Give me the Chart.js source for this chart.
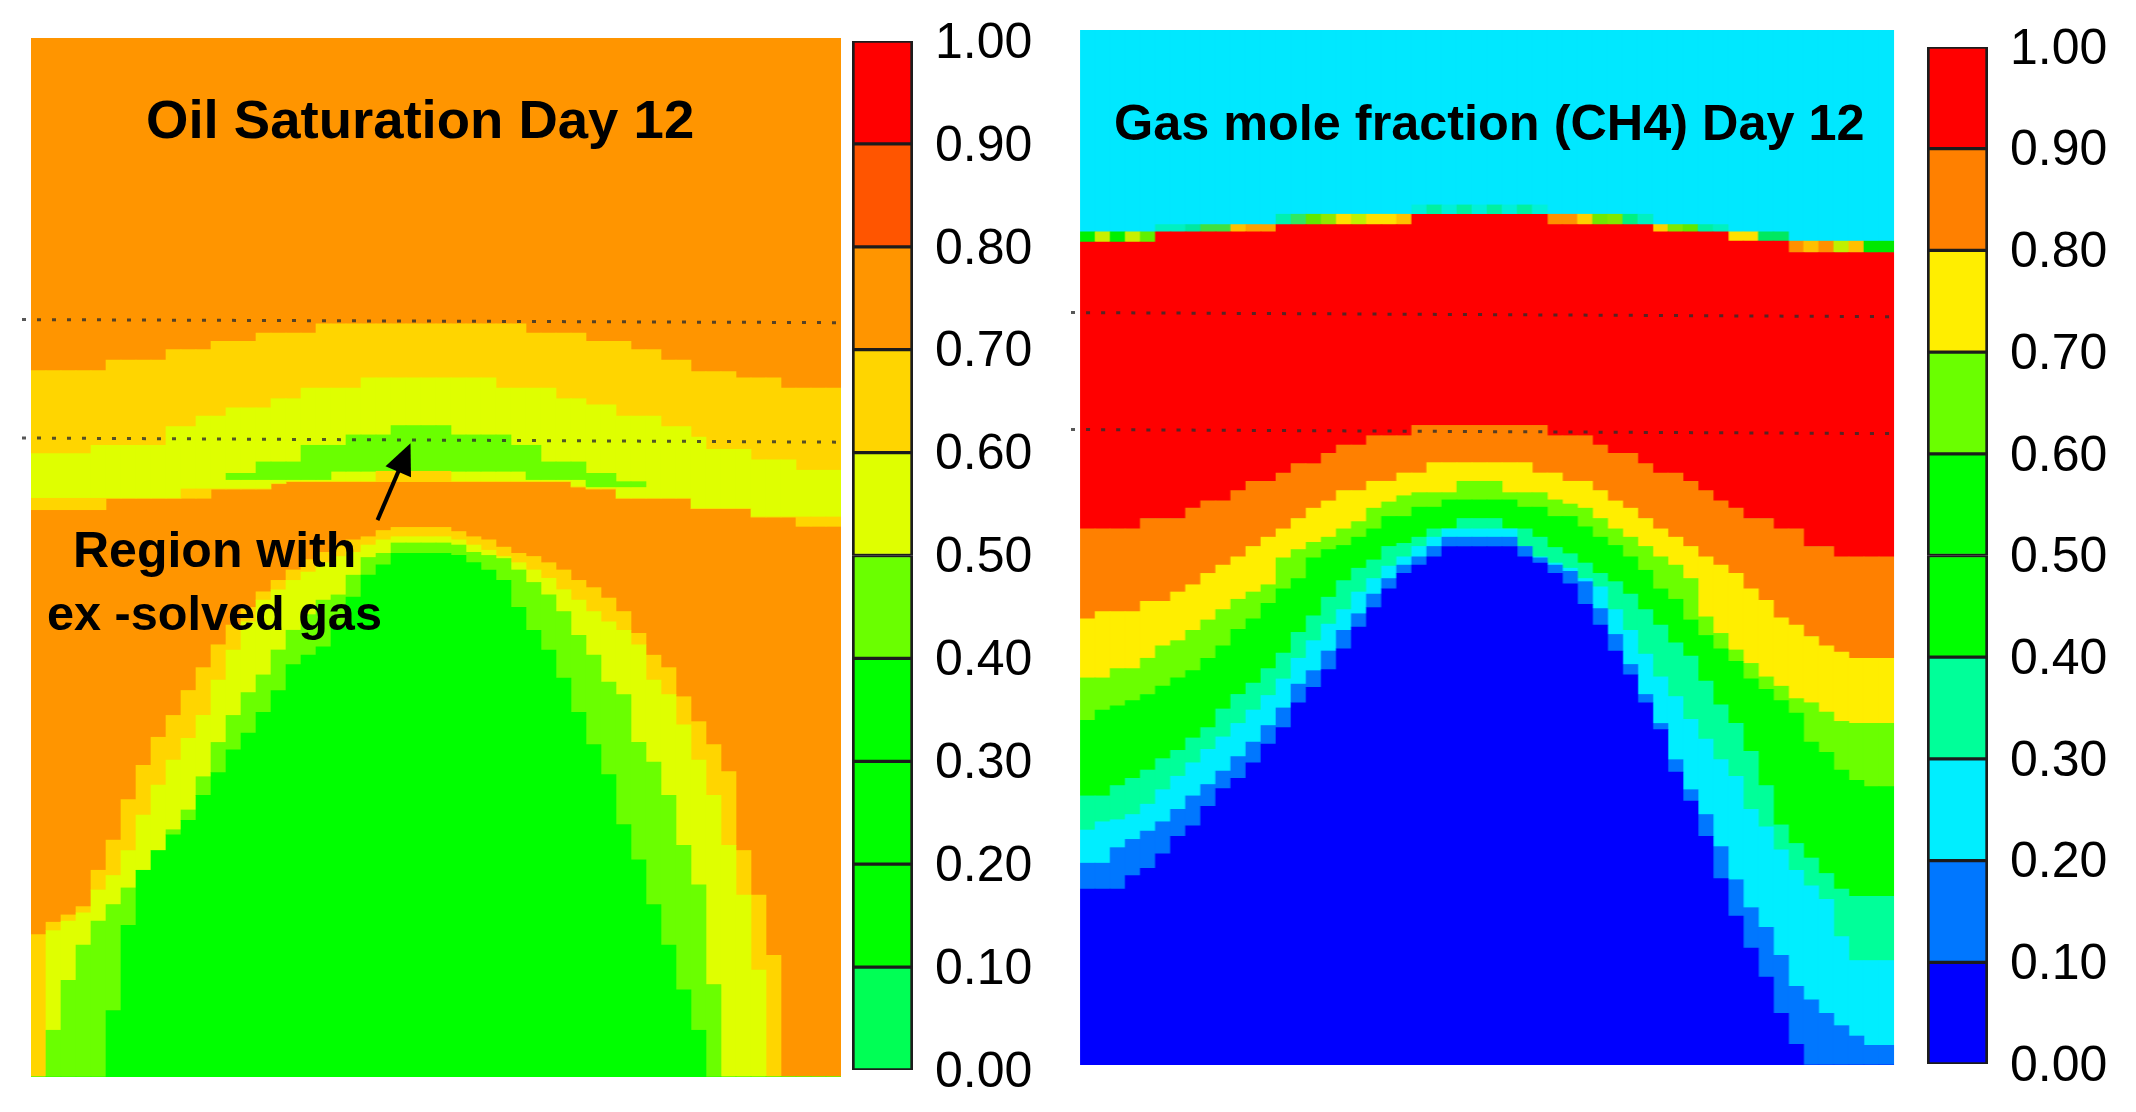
<!DOCTYPE html>
<html>
<head>
<meta charset="utf-8">
<title>Oil saturation and gas mole fraction, day 12</title>
<script src="https://cdn.jsdelivr.net/npm/chart.js@4/dist/chart.umd.min.js"></script>
<style>
  html, body { margin: 0; background: #fff; }
  #page { position: relative; width: 2136px; height: 1112px; overflow: hidden; filter: blur(0.6px); }
  canvas { position: absolute; }
  .label { position: absolute; font-family: "Liberation Sans", Arial, sans-serif; font-weight: bold; color: #000; white-space: nowrap; transform: translateY(-50%); }
</style>
</head>
<body>
<div id="page">
  <canvas id="oilChart" width="823" height="1039" style="left:21px;top:38px"></canvas>
  <canvas id="oilBar" width="200" height="1112" style="left:850px;top:0"></canvas>
  <canvas id="gasChart" width="823" height="1035" style="left:1070px;top:30px;transform:scaleX(1.005);transform-origin:10px 0"></canvas>
  <canvas id="gasBar" width="200" height="1112" style="left:1925px;top:0"></canvas>
  <div class="label" style="left:146px;top:119px;font-size:54.5px">Oil Saturation Day 12</div>
  <div class="label" style="left:73px;top:550px;font-size:50px">Region with</div>
  <div class="label" style="left:47px;top:613px;font-size:48.6px">ex -solved gas</div>
  <div class="label" style="left:1114px;top:122px;font-size:50.4px">Gas mole fraction (CH4) Day 12</div>
</div>
<script>
// depth of each contour in grid layers (0 = top of the section, 100 = bottom), one value per column
const oilGoldTop = [32,32,32,32,32,31,31,31,31,30,30,30,29.2,29.2,29.2,28.4,28.4,28.4,28.4,27.5,27.5,27.5,27.5,27.5,27.5,27.5,27.5,27.5,27.5,27.5,27.5,27.5,27.5,28.4,28.4,28.4,28.4,29.2,29.2,29.2,30,30,31,31,32.1,32.1,32.1,32.7,32.7,32.7,33.7,33.7,33.7,33.7];
const oilLimeTop = [40,40,40,40,39.2,39.2,39.2,39.2,39.2,37.4,37.4,36.4,36.4,35.6,35.6,35.6,34.7,34.7,33.7,33.7,33.7,33.7,32.7,32.7,32.7,32.7,32.7,32.7,32.7,32.7,32.7,33.7,33.7,33.7,33.7,34.7,34.7,35.3,35.3,36.4,36.4,36.4,37.4,37.4,38.4,39.6,39.6,39.6,40.6,40.6,40.6,41.6,41.6,41.6];
const oilLimeEnd = [44.3,44.3,44.3,44.3,44.3,44.3,44.3,44.3,44.3,44.3,43.4,43.4,43.4,43.4,43.4,43.4,42.9,42.7,42.7,42.7,42.7,42.7,42.7,41.7,41.7,41.7,41.7,41.7,42.7,42.7,42.7,42.7,42.7,42.7,42.7,42.7,43.2,43.4,43.4,44.3,44.3,44.3,44.3,44.3,45.3,45.3,45.3,45.3,46.1,46.1,46.1,46.1,46.1,46.1];
const oilLowerOrangeTop = [45.4,45.4,45.4,45.4,45.4,44.3,44.3,44.3,44.3,44.3,44.3,44.3,43.4,43.4,43.4,43.4,42.9,42.7,42.7,42.7,42.7,42.7,42.7,42.7,42.7,42.7,42.7,42.7,42.7,42.7,42.7,42.7,42.7,42.7,42.7,42.7,43.2,43.4,43.4,44.3,44.3,44.3,44.3,44.3,45.3,45.3,45.3,45.3,46.1,46.1,46.1,47,47,47];
const oilPatchTop = [null,null,null,null,null,null,null,null,null,null,null,null,null,41.9,41.9,40.8,40.8,40.8,39.2,39.2,39.2,38.2,38.2,38.2,37.3,37.3,37.3,37.3,38.2,38.2,38.2,38.2,39.2,39.2,40.8,40.8,40.8,41.9,41.9,42.7,42.7,null,null,null,null,null,null,null,null,null,null,null,null,null];
const oilPatchEnd = [null,null,null,null,null,null,null,null,null,null,null,null,null,42.5,42.5,42.5,42.5,42.5,42.5,42.5,41.7,41.7,41.7,41.7,41.7,41.7,41.7,41.7,41.7,41.7,41.7,41.7,41.7,42.5,42.5,42.5,42.5,43.2,43.2,43.2,43.2,null,null,null,null,null,null,null,null,null,null,null,null,null];
const oilDomeGoldTop = [86.3,85.1,84.4,83.6,80.1,77.2,73.3,70,67.3,65.2,62.8,60.6,58.4,56.5,54.8,53.3,52.2,51.2,50.2,49.5,48.8,48.3,48,47.4,47.1,47.1,47.1,47.1,47.5,48,48.3,49,49.6,49.9,50.5,51.2,52.2,52.9,53.9,55.2,57.3,59.4,60.6,63.4,65.8,68,70.6,78.2,82.5,88.3,100,100,100,100];
const oilDomeLimeTop = [100,85.9,85,84.2,82,80.6,78.2,74.8,71.9,69.5,67.4,65.2,61.8,58.9,56.2,54.1,53.1,52.2,51.4,50.5,49.9,49.5,48.8,48.3,48,48,48,48,48.3,48.8,49.3,49.9,50.5,51.2,52,53.1,54.1,55.2,56.2,57,58.4,61.8,63.2,66.1,69.5,72.9,77.7,82.5,89.7,100,100,100,100,100];
const oilDomeLeafTop = [100,95.5,90.7,87.3,85,83.4,81.8,80.1,78.2,76.2,74.3,71.1,67.8,65.2,63,61.3,58.9,57,55.5,54.1,53.6,51.7,50,49.6,48.6,48.6,48.6,48.6,48.8,49.5,49.8,50.1,51.2,52.4,53.6,55.2,57.5,59.4,62,63.2,67.8,69.7,72.9,77.7,81.5,91.1,100,100,100,100,100,100,100,100];
const oilDomeGreenTop = [100,100,100,100,100,93.6,85.4,80.1,78.2,76.7,75.3,72.9,70.7,68.5,66.9,64.9,62.8,60.3,59.4,58.6,56.5,53.8,51.7,50.7,49.6,49.6,49.6,49.6,49.8,50.5,51.2,52.2,54.8,57,58.9,61.6,64.9,68,70.9,75.7,79.1,83.4,87.3,91.6,95.5,100,100,100,100,100,100,100,100,100];
const oilMarkers = [[27.1, 27.4], [38.5, 38.9]];
const oilArrow = { tail: [22.6, 46.4], tip: [24.8, 39] };

const gasFringeTop = [19.5,19.5,19.5,19.5,19.5,18.8,18.8,18.8,18.8,18.8,18.8,18.8,18.8,17.8,17.8,17.8,17.8,17.8,17.8,17.8,17.8,17.8,16.9,16.9,16.9,16.9,16.9,16.9,16.9,16.9,16.9,17.8,17.8,17.8,17.8,17.8,17.8,17.8,18.8,18.8,18.8,18.8,18.8,19.5,19.5,19.5,19.5,20.4,20.4,20.4,20.4,20.4,20.4,20.4];
const gasRedTop = [20.5,20.5,20.5,20.5,20.5,19.5,19.5,19.5,19.5,19.5,19.5,19.5,19.5,18.8,18.8,18.8,18.8,18.8,18.8,18.8,18.8,18.8,17.8,17.8,17.8,17.8,17.8,17.8,17.8,17.8,17.8,18.8,18.8,18.8,18.8,18.8,18.8,18.8,19.5,19.5,19.5,19.5,19.5,20.4,20.4,20.4,20.4,21.5,21.5,21.5,21.5,21.5,21.5,21.5];
const gasOrangeTop = [48.2,48.2,48.2,48.2,47.2,47.2,47.2,46.2,45.5,45.5,44.5,43.6,43.6,42.8,41.9,41.9,40.9,40.1,40.1,39.2,39.2,39.2,38.2,38.2,38.2,38.2,38.2,38.2,38.2,38.2,38.2,39.2,39.2,39.2,40.1,40.9,40.9,41.9,42.8,42.8,43.6,44.5,45.5,46.2,47.2,47.2,48.2,48.2,49.9,49.9,50.9,50.9,50.9,50.9];
const gasYellowTop = [56.9,56.2,56.2,56.2,55.2,55.2,54.3,53.6,52.5,51.7,50.9,49.9,49,48.2,47.2,46.2,45.5,44.5,44.5,43.6,43.6,42.8,42.8,41.8,41.8,41.8,41.8,41.8,41.8,41.8,42.8,42.8,43.6,43.6,44.5,45.5,46.2,47.2,48.2,49,49.9,50.9,51.7,52.5,54,55.1,56.8,57.5,58.6,59.5,60.1,60.7,60.7,60.7];
const gasLeafTop = [62.6,62.6,61.7,61.7,60.7,59.5,59,58,57,56,55,54.3,53.6,51,50.2,49.5,49,48.2,47.5,46.2,45.6,45,44.7,44.7,44.7,43.6,43.6,43.6,44.7,44.7,44.7,45.4,45.8,46.2,47.2,48.2,49,49.9,50.9,51.7,53,56.7,58.3,59.9,61.2,62.5,63.4,64.6,65,65.9,66.8,67,67,67];
const gasGreenTop = [66.7,65.7,65.3,64.8,64.2,63.4,62.6,61.9,60.7,59.5,57.9,56.9,55.4,54,53,51,50.2,49.8,49,48.2,47,47,46.1,46.1,45.4,45.4,45.4,45.4,45.4,46.1,46.1,47,47,48,49,49.8,50.9,52.2,54,55,57,58.5,59.8,61,62.7,63.7,64.8,66,68.8,69.8,71.5,72.5,73.1,73.1];
const gasSpringTop = [74,74,73,72.3,71.5,70.4,69.6,68.4,67.4,65.6,64.2,63.1,61.7,60.2,58.2,56.6,54.8,53.2,52,51.2,49.9,49.6,49,48.2,48.2,47.2,47.2,47.2,48.2,48.2,49,50,50.6,51.5,52.5,53.3,54.5,56,57.5,59.2,60.5,62.9,65.2,67,69.7,73,76.8,78.6,80,81.5,83,83.7,83.7,83.7];
const gasCyanTop = [77.3,76.5,76.3,75.8,74.8,73.4,72.1,70.8,69.5,68.3,67,65.7,64.3,62.7,60.7,59,57.4,56,54.3,53,51.8,50.9,49.9,49,48.2,48.2,48.2,48.2,48.2,49.9,50.9,51.5,52,53,53.8,56,58,60.3,62.5,64.4,66.6,68.5,70.5,72.1,75.3,77,79.2,81.2,82.7,84,87.6,89.9,89.9,89.9];
const gasAzureTop = [80.5,80.5,79,78.2,77.4,76.5,75.3,74,72.9,71.6,70.2,68.8,67.2,65.5,63.2,61.9,60,58,56.4,54.5,53,51.7,50.9,49.9,49,49,49,49,49,49.9,51,51.7,52.3,53.3,55.9,58.4,61.3,64.2,67,70.5,73.4,75.8,78.9,82.1,84.8,86.7,89.4,92.4,93.7,95,96.2,97.2,98.1,98.1];
const gasBlueTop = [83,83,83,81.7,81,79.6,77.9,76.9,75,73.3,72.3,70.8,69,67.4,65,63.5,61.8,59.8,57.7,55.8,54,52.5,51.7,50.9,49.9,49.9,49.9,49.9,49.9,50.9,51.5,52.5,53.5,55.5,57.5,60,62.3,65,67.6,71.7,74.5,77.9,82,85.6,88.7,91.5,95,98,100,100,100,100,100,100];
const gasMarkers = [[27.3, 27.7], [38.6, 39]];
const gasFringeColors = ['#00f000','#c8f000','#00f000','#c8f000','#60f000','#00f0c0','#00f0c0','#00e8a0','#40e040','#40e040','#ffc000','#ffa000','#ffa000','#00f0b0','#30e860','#60e800','#90e800','#ffe000','#c0f000','#ffe000','#ffe000','#ffc000','#00f0d8','#00f0a0','#00f0d8','#00f0a0','#00f0d8','#00f0a0','#00f0d8','#00f0a0','#00f0d8','#ff9000','#ff9000','#ffd000','#70e800','#80e800','#00f080','#00f0c0','#ffd000','#80e800','#60e800','#00f0a0','#00f0c0','#ffe000','#ffe000','#00e860','#00e860','#ff9000','#ffc000','#ff9000','#c0f000','#ffc000','#00e800','#00e800'];

const tickLabels = ['0.00','0.10','0.20','0.30','0.40','0.50','0.60','0.70','0.80','0.90','1.00'];
const barSteps = [0.1,0.1,0.1,0.1,0.1,0.1,0.1,0.1,0.1,0.1];
const oilBarColors = ['#00ff55','#00ff00','#00ff00','#00ff00','#6aff00','#dfff00','#ffd500','#ff9500','#ff5500','#ff0000'];
const gasBarColors = ['#0000ff','#0077ff','#00eeff','#00ff99','#00ff00','#00ff00','#6aff00','#ffee00','#ff8000','#ff0000'];

const columns = oilGoldTop.map((_, i) => i + 1);
const fullDepth = columns.map(() => 100);
const noDepth = columns.map(() => 0);

function band(tops, ends, color) {
  return {
    data: tops.map((t, i) => (t === null ? null : [t, ends[i]])),
    backgroundColor: color,
    borderWidth: 0,
    barPercentage: 1,
    categoryPercentage: 1
  };
}

// dotted horizon lines, they stick out a little past the section on the left
const markerLines = {
  id: 'markerLines',
  afterDatasetsDraw(chart, args, opts) {
    const { ctx, chartArea, scales } = chart;
    ctx.save();
    ctx.setLineDash([4, 11]);
    ctx.lineWidth = 3;
    ctx.strokeStyle = 'rgba(45,45,45,0.8)';
    opts.lines.forEach((line) => {
      ctx.beginPath();
      ctx.moveTo(chartArea.left - 9, scales.y.getPixelForValue(line[0]));
      ctx.lineTo(chartArea.right + 3, scales.y.getPixelForValue(line[1]));
      ctx.stroke();
    });
    ctx.restore();
  }
};

const regionArrow = {
  id: 'regionArrow',
  afterDatasetsDraw(chart, args, opts) {
    if (!opts.tip) return;
    const { ctx, scales } = chart;
    const x0 = scales.x.getPixelForValue(opts.tail[0]);
    const y0 = scales.y.getPixelForValue(opts.tail[1]);
    const x1 = scales.x.getPixelForValue(opts.tip[0]);
    const y1 = scales.y.getPixelForValue(opts.tip[1]);
    const a = Math.atan2(y1 - y0, x1 - x0);
    ctx.save();
    ctx.strokeStyle = '#000';
    ctx.fillStyle = '#000';
    ctx.lineWidth = 4;
    ctx.beginPath();
    ctx.moveTo(x0, y0);
    ctx.lineTo(x1 - 20 * Math.cos(a), y1 - 20 * Math.sin(a));
    ctx.stroke();
    ctx.beginPath();
    ctx.moveTo(x1, y1);
    ctx.lineTo(x1 - 34 * Math.cos(a - 0.42), y1 - 34 * Math.sin(a - 0.42));
    ctx.lineTo(x1 - 34 * Math.cos(a + 0.42), y1 - 34 * Math.sin(a + 0.42));
    ctx.closePath();
    ctx.fill();
    ctx.restore();
  }
};

function drawSection(id, datasets, lines, arrow) {
  new Chart(document.getElementById(id), {
    type: 'bar',
    // Chart.js paints the first dataset last, the bands are listed from the back
    data: { labels: columns, datasets: datasets.reverse() },
    options: {
      responsive: false,
      animation: false,
      layout: { padding: { left: 10, right: 3, top: 0, bottom: 0 } },
      scales: {
        x: { display: false, stacked: true },
        y: { display: false, reverse: true, min: 0, max: 100 }
      },
      plugins: {
        legend: { display: false },
        tooltip: { enabled: false },
        markerLines: { lines: lines },
        regionArrow: arrow || {}
      }
    },
    plugins: [markerLines, regionArrow]
  });
}

function drawColorBar(id, colors, top, bottom, left) {
  new Chart(document.getElementById(id), {
    type: 'bar',
    data: {
      labels: ['scale'],
      datasets: barSteps.map((step, i) => ({
        data: [step],
        backgroundColor: colors[i],
        borderColor: '#1c1c1c',
        borderWidth: { top: 2, bottom: 2, left: 3, right: 3 },
        borderSkipped: false,
        barPercentage: 1,
        categoryPercentage: 1
      }))
    },
    options: {
      responsive: false,
      animation: false,
      layout: { padding: { left: left, right: 0, top: top, bottom: 1112 - bottom } },
      scales: {
        x: { display: false, stacked: true },
        y: {
          stacked: true,
          position: 'right',
          min: 0,
          max: 1,
          afterFit: (scale) => {
            scale.width = 200 - 61 - left;
            scale.paddingTop = 0;
            scale.paddingBottom = 0;
          },
          border: { display: false },
          grid: { display: false, drawTicks: false },
          ticks: {
            stepSize: 0.1,
            padding: 22,
            labelOffset: 3,
            color: '#000',
            font: { family: '"Liberation Sans", Arial, sans-serif', size: 50 },
            callback: (value, index) => tickLabels[index]
          }
        }
      },
      plugins: { legend: { display: false }, tooltip: { enabled: false } }
    }
  });
}

const ORANGE = '#ff9500', GOLD = '#ffd500', LIME = '#dfff00', LEAF = '#6aff00', GREEN = '#00ff00';
drawSection('oilChart', [
  band(noDepth, fullDepth, ORANGE),
  band(oilGoldTop, oilLimeTop, GOLD),
  band(oilLimeTop, oilLimeEnd, LIME),
  band(oilPatchTop, oilPatchEnd, LEAF),
  band(oilLimeEnd, oilLowerOrangeTop, GOLD),
  band(oilDomeGoldTop, oilDomeLimeTop, GOLD),
  band(oilDomeLimeTop, oilDomeLeafTop, LIME),
  band(oilDomeLeafTop, oilDomeGreenTop, LEAF),
  band(oilDomeGreenTop, fullDepth, GREEN)
], oilMarkers, oilArrow);

drawSection('gasChart', [
  band(noDepth, fullDepth, '#00e8ff'),
  band(gasFringeTop, gasRedTop, gasFringeColors),
  band(gasRedTop, gasOrangeTop, '#ff0000'),
  band(gasOrangeTop, gasYellowTop, '#ff8000'),
  band(gasYellowTop, gasLeafTop, '#ffee00'),
  band(gasLeafTop, gasGreenTop, LEAF),
  band(gasGreenTop, gasSpringTop, GREEN),
  band(gasSpringTop, gasCyanTop, '#00ff99'),
  band(gasCyanTop, gasAzureTop, '#00eeff'),
  band(gasAzureTop, gasBlueTop, '#0077ff'),
  band(gasBlueTop, fullDepth, '#0000ff')
], gasMarkers);

drawColorBar('oilBar', oilBarColors, 41, 1070, 2);
drawColorBar('gasBar', gasBarColors, 47, 1064, 2);
</script>
</body>
</html>
